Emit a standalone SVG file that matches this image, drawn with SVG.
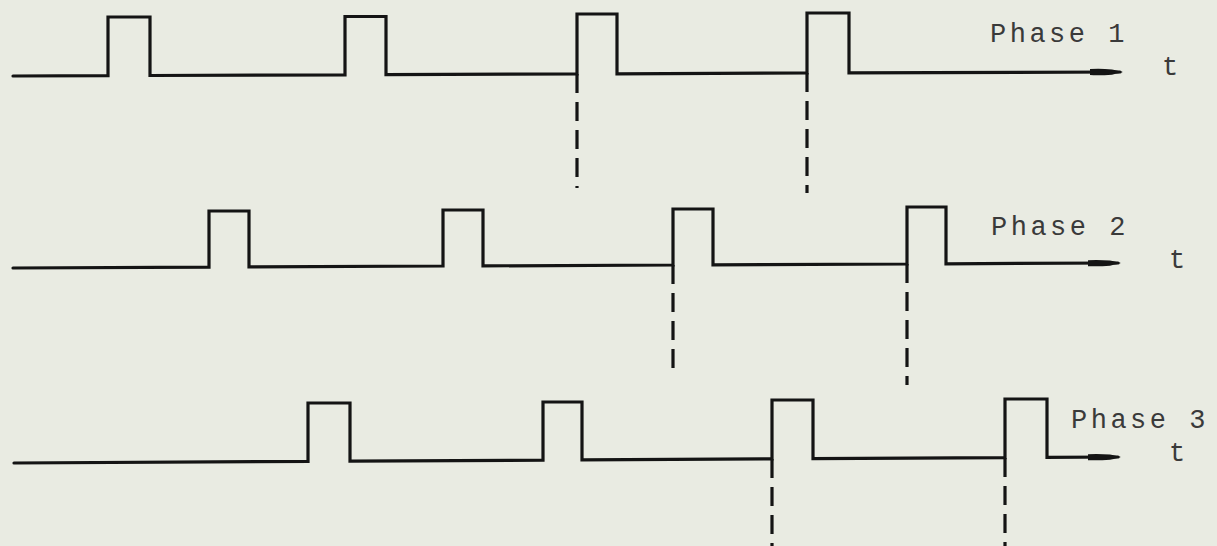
<svg xmlns="http://www.w3.org/2000/svg" width="1217" height="546" viewBox="0 0 1217 546">
  <style>
    .wave { fill: none; stroke: #141414; stroke-width: 3.2; stroke-linejoin: miter; stroke-linecap: round; }
    .dash { fill: none; stroke: #141414; stroke-width: 3.2; stroke-dasharray: 19 9; }
    .lbl { font-family: "Liberation Mono", "Courier New", monospace; font-size: 27px; letter-spacing: 3.5px; fill: #3a3a3a; }
  </style>
  <defs>
    <marker id="arrow" markerUnits="userSpaceOnUse" markerWidth="40" markerHeight="12" viewBox="-30 -6 34 12" refX="0" refY="0" orient="auto" overflow="visible">
      <path d="M-30,-3 Q-20,-3.6 -8,-2.6 Q0,-1 3,0 Q0,1 -8,2.6 Q-20,3.6 -30,3 Z" fill="#141414"/>
    </marker>
  </defs>
  <rect x="0" y="0" width="1217" height="546" fill="#e9ebe2"/>

  <g id="phase1">
    <path class="wave" marker-end="url(#arrow)" d="M13,76 L108,75.7 L108,17 L150,17 L150,75.5 L345,74.8 L345,16.5 L386,16.5 L386,74.6 L577,74 L577,14 L617,14 L617,73.8 L807,73 L807,13 L849,13 L849,72.9 L1120,72"/>
    <text class="lbl" x="990" y="42">Phase 1</text>
    <text class="lbl" x="1162" y="75">t</text>
  </g>

  <g id="phase2">
    <path class="wave" marker-end="url(#arrow)" d="M13,268 L209,267.1 L209,211 L249,211 L249,266.9 L443,266 L443,210 L483,210 L483,265.9 L673,265 L673,209 L713,209 L713,264.8 L907,264 L907,207 L946,207 L946,263.8 L1118,263"/>
    <text class="lbl" x="991" y="235">Phase 2</text>
    <text class="lbl" x="1169" y="268">t</text>
  </g>

  <g id="phase3">
    <path class="wave" marker-end="url(#arrow)" d="M14,463 L308,461.4 L308,403 L350,403 L350,461.2 L543,460.1 L543,402 L582,402 L582,459.9 L772,458.9 L772,400 L813,400 L813,458.7 L1005,457.6 L1005,399 L1047,399 L1047,457.4 L1118,457"/>
    <text class="lbl" x="1071" y="428">Phase 3</text>
    <text class="lbl" x="1169" y="461">t</text>
  </g>

  <g id="connectors">
    <line class="dash" x1="577" y1="74" x2="577" y2="188"/>
    <line class="dash" x1="807" y1="73" x2="807" y2="193"/>
    <line class="dash" x1="673" y1="265" x2="673" y2="375"/>
    <line class="dash" x1="907" y1="264" x2="907" y2="385"/>
    <line class="dash" x1="772" y1="459" x2="772" y2="546"/>
    <line class="dash" x1="1005" y1="458" x2="1005" y2="546"/>
  </g>
</svg>
